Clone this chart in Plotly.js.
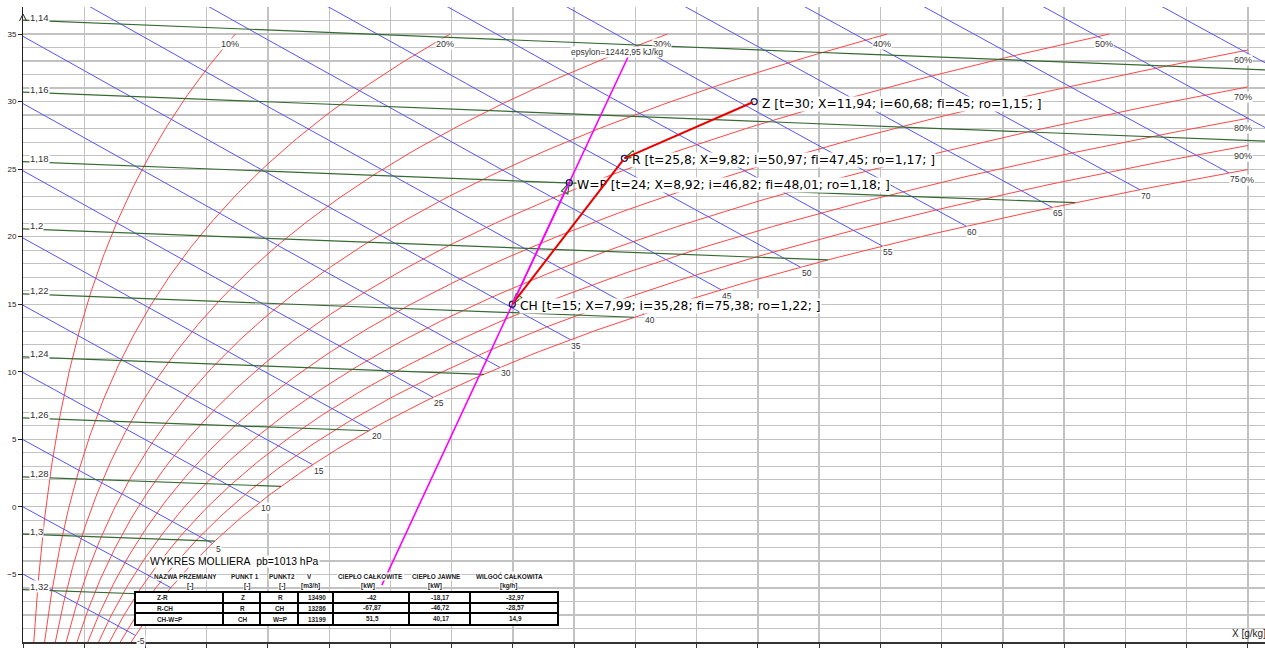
<!DOCTYPE html>
<html><head><meta charset="utf-8">
<script src="https://cdn.plot.ly/plotly-3.0.1.min.js"></script>
<style>html,body{margin:0;padding:0;background:#fff}#chart{width:1265px;height:650px}text{font-variant-ligatures:none;font-feature-settings:"liga" 0;}</style>
</head><body><div id="chart"></div>
<script>
// ---------- data ----------
const rhLevels=[10,20,30,40,50,60,70,80,90,100];
const enthalpyLevels=[-5,0,5,10,15,20,25,30,35,40,45,50,55,60,65,70,75,80,85];
const enthalpyLabelLevels=[-5,5,10,15,20,25,30,35,40,45,50,55,60,65,70,75];
const densityLevels=[1.14,1.16,1.18,1.20,1.22,1.24,1.26,1.28,1.30,1.32];
const densityLabels=['1,14','1,16','1,18','1,2','1,22','1,24','1,26','1,28','1,3','1,32'];
const pointNames=['Z','R','W=P','CH'];
const pointT=[30,25.8,24,15];
const pointX=[11.94,9.82,8.92,7.99];
const pointI=[60.68,50.97,46.82,35.28];
const pointFi=[45,47.45,48.01,75.38];
const pointRo=[1.15,1.17,1.18,1.22];
const epsilonValue=12442.95;
const epsilonLineX=[5.86,9.9];
const processNames=['Z-R','R-CH','CH-W=P'];
const processFrom=['Z','R','CH'];
const processTo=['R','CH','W=P'];
const processV=['13490','13286','13199'];
const processQtot=['-42','-67,87','51,5'];
const processQsens=['-18,17','-46,72','40,17'];
const processW=['-32,97','-28,57','14,9'];
const tableHeaders=['NAZWA PRZEMIANY','PUNKT 1','PUNKT2','V','CIEPŁO CAŁKOWITE','CIEPŁO JAWNE','WILGOĆ CAŁKOWITA'];
const tableUnits=['[-]','[-]','[-]','[m3/h]','[kW]','[kW]','[kg/h]'];
const tableTitle='WYKRES MOLLIERA\u00a0\u00a0pb=1013 hPa';
const xTitle='X [g/kg]';
const yTickVals=[-5,0,5,10,15,20,25,30,35];
const xTickVals=[0,1,2,3,4,5,6,7,8,9,10,11,12,13,14,15,16,17,18,19,20];
const pressure_kPa=101.3;

// ---------- psychrometrics ----------
const P=pressure_kPa;
const ps=t=>0.61094*Math.exp(17.625*t/(t+243.04));
const xsat=(t,phi)=>{const p=phi*ps(t);return 622*p/(P-p);};
const enth=(t,X)=>1.005*t+X*(2.501+0.00186*t);
const tFromIX=(i,X)=>(i-2.501*X)/(1.005+0.00186*X);
const tFromRhoX=(rho,X)=>{const x=X/1000;return P*1000*(1+x)/(287.4*rho*(1+1.608*x))-273.15;};
function bisect(f,a,b){let fa=f(a);for(let k=0;k<80;k++){const m=(a+b)/2,fm=f(m);if((fm<0)===(fa<0)){a=m;fa=fm;}else b=m;}return (a+b)/2;}
const fmt=v=>String(v).replace('.',',');

const XMAX=20.28,TMIN=-10,TMAX=37;
const RED='rgb(255,70,70)',BLUE='rgb(85,85,250)',GREEN='rgb(55,105,50)',GRID='#c2c2c2';
const traces=[],ann=[],shapes=[];
const smallFont={family:'Liberation Sans, Arial, sans-serif',size:8.5,color:'#333'};

// RH curves
rhLevels.forEach(r=>{
  const phi=r/100;
  let tEnd=35;
  if(xsat(35,phi)>20) tEnd=bisect(t=>xsat(t,phi)-20,TMIN,35);
  const xs=[],ts=[];
  for(let t=TMIN;t<tEnd;t+=0.25){xs.push(xsat(t,phi));ts.push(t);}
  xs.push(xsat(tEnd,phi));ts.push(tEnd);
  traces.push({x:xs,y:ts,mode:'lines',line:{color:RED,width:1},hoverinfo:'skip'});
  ann.push({x:xs[xs.length-1],y:tEnd,text:r+'%',showarrow:false,xshift:-5,yshift:-10,font:Object.assign({},smallFont,{size:9}),bgcolor:'#fff',borderpad:0});
});

// enthalpy lines
enthalpyLevels.forEach(i=>{
  const ts=bisect(t=>enth(t,xsat(t,1))-i,-40,60);
  let Xe=xsat(ts,1);
  const inside=Xe<=XMAX&&ts>=TMIN;
  if(Xe>XMAX) Xe=XMAX+0.3;
  const xs=[],ys=[];
  for(let k=0;k<=40;k++){const X=Xe*k/40;xs.push(X);ys.push(tFromIX(i,X));}
  traces.push({x:xs,y:ys,mode:'lines',line:{color:BLUE,width:1},hoverinfo:'skip'});
  if(inside&&enthalpyLabelLevels.includes(i))
    ann.push({x:Xe,y:ts,text:String(i),showarrow:false,xshift:6,yshift:-6,font:smallFont,bgcolor:'#fff',borderpad:0});
});

// density lines
densityLevels.forEach((rho,k)=>{
  const g=X=>X-xsat(tFromRhoX(rho,X),1);
  const Xe=g(XMAX)>0?bisect(g,0,XMAX):XMAX;
  const xs=[],ys=[];
  for(let j=0;j<=30;j++){const X=Xe*j/30;xs.push(X);ys.push(tFromRhoX(rho,X));}
  traces.push({x:xs,y:ys,mode:'lines',line:{color:GREEN,width:1.2},hoverinfo:'skip'});
  ann.push({x:0,y:ys[0],text:densityLabels[k],showarrow:false,xanchor:'left',xshift:6,yshift:3,font:Object.assign({},smallFont,{size:9.5}),bgcolor:'#fff',borderpad:0});
});

// epsilon line through CH
const iCH=pointI[3],xCH=pointX[3];
{
  const xs=[],ys=[];
  for(let k=0;k<=30;k++){const X=epsilonLineX[0]+(epsilonLineX[1]-epsilonLineX[0])*k/30;const i=iCH+epsilonValue*(X-xCH)/1000;xs.push(X);ys.push(tFromIX(i,X));}
  traces.push({x:xs,y:ys,mode:'lines',line:{color:'#ff00ff',width:1.6},hoverinfo:'skip'});
  ann.push({x:xs[xs.length-1],y:ys[ys.length-1],text:'epsylon='+fmt(epsilonValue)+' kJ/kg',showarrow:false,xshift:-12,yshift:2,font:smallFont,bgcolor:'#fff',borderpad:0});
}

// arrowheads (open, green) at process ends
const sx=1242/XMAX,sy=635/(TMAX-TMIN);
const idx=n=>pointNames.indexOf(n);
processFrom.forEach((f,k)=>{
  const a=idx(f),b=idx(processTo[k]);
  const dx=(pointX[b]-pointX[a])*sx,dy=(pointT[b]-pointT[a])*sy;
  const L=Math.hypot(dx,dy),ux=dx/L,uy=dy/L,nx=-uy,ny=ux;
  const tipx=pointX[b]*sx,tipy=pointT[b]*sy;
  const bx=tipx-11*ux,by=tipy-11*uy;
  const pts=[[tipx,tipy],[bx+3.5*nx,by+3.5*ny],[bx-3.5*nx,by-3.5*ny],[tipx,tipy]];
  traces.push({x:pts.map(p=>p[0]/sx),y:pts.map(p=>p[1]/sy),mode:'lines',line:{color:'rgb(30,120,30)',width:1.2},hoverinfo:'skip'});
});

// point markers
traces.push({x:pointX,y:pointT,mode:'markers',marker:{symbol:'circle-open',size:6,color:'#1b1b66',line:{width:1.3}},hoverinfo:'skip'});

// point labels
pointNames.forEach((n,k)=>{
  ann.push({x:pointX[k],y:pointT[k],text:`${n} [t=${fmt(pointT[k])}; X=${fmt(pointX[k])}; i=${fmt(pointI[k])}; fi=${fmt(pointFi[k])}; ro=${fmt(pointRo[k])}; ]`,
    showarrow:false,xanchor:'left',xshift:7,yshift:-2,font:{family:'DejaVu Sans, sans-serif',size:12.3,color:'#000'},bgcolor:'#fff',borderpad:0});
});
// process lines drawn above labels (as annotation arrows)
processFrom.forEach((f,k)=>{
  const a=idx(f),b=idx(processTo[k]);
  ann.push({x:pointX[b],y:pointT[b],ax:pointX[a],ay:pointT[a],axref:'x',ayref:'y',xref:'x',yref:'y',text:'',showarrow:true,arrowhead:0,
    arrowwidth:k===2?1.6:2,arrowcolor:k===2?'#ff00ff':'rgb(235,0,0)',standoff:0,startstandoff:0});
});

// ---------- table ----------
const pxX=px=>(px-23)/1242, pxY=py=>(642-py)/635;
const colEdges=[135,223,260,298,333,409,470,558], rowEdges=[592,603,613,625];
shapes.push({type:'rect',xref:'paper',yref:'paper',x0:pxX(colEdges[0]),x1:pxX(colEdges[7]),y0:pxY(rowEdges[3]),y1:pxY(rowEdges[0]),fillcolor:'#fff',line:{color:'#000',width:2}});
colEdges.slice(1,-1).forEach(c=>shapes.push({type:'line',xref:'paper',yref:'paper',x0:pxX(c),x1:pxX(c),y0:pxY(rowEdges[3]),y1:pxY(rowEdges[0]),line:{color:'#000',width:2}}));
rowEdges.slice(1,-1).forEach(r=>shapes.push({type:'line',xref:'paper',yref:'paper',x0:pxX(colEdges[0]),x1:pxX(colEdges[7]),y0:pxY(r),y1:pxY(r),line:{color:'#000',width:2}}));
const tf={family:'Liberation Sans, Arial, sans-serif',size:6.4,color:'#222',weight:'bold'};
const headX=[185,245,282,309,370,436,509];
const unitX=[190,247,282,310,368,435,508];
tableHeaders.forEach((h,k)=>{
  ann.push({xref:'paper',yref:'paper',x:pxX(headX[k]),y:pxY(576),xanchor:'center',yanchor:'middle',text:h,showarrow:false,font:tf,bgcolor:'#fff',borderpad:0});
  ann.push({xref:'paper',yref:'paper',x:pxX(unitX[k]),y:pxY(586),xanchor:'center',yanchor:'middle',text:tableUnits[k],showarrow:false,font:tf,bgcolor:'#fff',borderpad:0});
});
ann.push({xref:'paper',yref:'paper',x:pxX(149),y:pxY(561),xanchor:'left',yanchor:'middle',text:tableTitle,showarrow:false,font:{family:'Liberation Sans, Arial, sans-serif',size:10.4,color:'#000'},bgcolor:'#fff',borderpad:0});
const rows=processNames.map((n,k)=>[n,processFrom[k],processTo[k],processV[k],processQtot[k],processQsens[k],processW[k]]);
rows.forEach((row,r)=>{
  const yc=(rowEdges[r]+rowEdges[r+1])/2;
  row.forEach((v,c)=>{
    const xc=c===0?155:(colEdges[c]+colEdges[c+1])/2+1;
    ann.push({xref:'paper',yref:'paper',x:pxX(xc),y:pxY(yc),xanchor:c===0?'left':'center',yanchor:'middle',text:v,showarrow:false,font:tf});
  });
});

// axis title & arrow
ann.push({xref:'paper',yref:'paper',x:1,y:0,xanchor:'right',yanchor:'bottom',xshift:3,yshift:1,text:xTitle,showarrow:false,font:{family:'Liberation Sans, Arial, sans-serif',size:10,color:'#222'}});
shapes.push({type:'path',xref:'paper',yref:'paper',xsizemode:'pixel',ysizemode:'pixel',xanchor:0,yanchor:1,path:'M -3.5 -14 L 0 -7 L 3.5 -14',line:{color:'#222',width:1}});

const layout={
  width:1265,height:650,margin:{l:23,r:0,t:7,b:8},
  paper_bgcolor:'#fff',plot_bgcolor:'#fff',showlegend:false,
  xaxis:{range:[0,XMAX],tickmode:'array',tickvals:xTickVals,showgrid:true,gridcolor:GRID,gridwidth:1.4,zeroline:false,showline:true,linecolor:'#333',linewidth:1.5,
    ticks:'outside',ticklen:4,tickcolor:'#333',tickfont:{family:'Liberation Sans, Arial, sans-serif',size:8,color:'#222'}},
  yaxis:{range:[TMIN,TMAX],tickmode:'array',tickvals:yTickVals,showgrid:true,gridcolor:GRID,gridwidth:1.2,zeroline:false,showline:true,linecolor:'#222',linewidth:1,
    minor:{tick0:0,dtick:1,showgrid:true,gridcolor:GRID,gridwidth:1.2},
    ticks:'outside',ticklen:4,tickcolor:'#222',tickfont:{family:'Liberation Sans, Arial, sans-serif',size:8,color:'#222'}},
  annotations:ann,shapes:shapes
};
Plotly.newPlot('chart',traces,layout,{staticPlot:true,displayModeBar:false});
</script></body></html>
